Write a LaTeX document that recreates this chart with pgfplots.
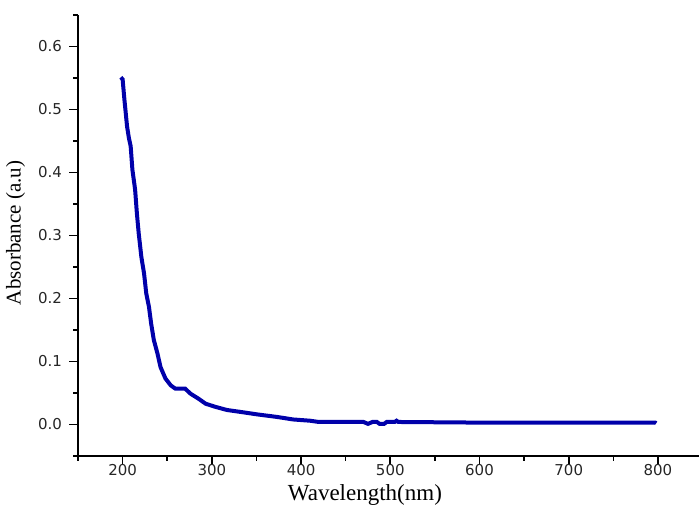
\documentclass[border=0pt]{standalone}
\usepackage{fontspec}
\setmainfont{Liberation Serif}
\newfontfamily\tickfont{DejaVu Sans}
\usepackage{pgfplots}
\pgfplotsset{compat=1.18}
\definecolor{curveblue}{RGB}{0,0,170}

\begin{document}
\begin{tikzpicture}
\begin{axis}[
    scale only axis,
    width=310.5pt, height=220.5pt,
    xmin=150, xmax=846,
    ymin=-0.05, ymax=0.65,
    axis x line=bottom, axis y line=left,
    axis line style={-, line width=0.8pt},
    xtick={200,300,...,800},
    minor xtick={150,250,...,850},
    ytick={0,0.1,...,0.6},
    minor ytick={-0.05,0.05,...,0.65},
    yticklabel style={/pgf/number format/.cd, fixed, fixed zerofill, precision=1},
    /pgf/number format/assume math mode=true,
    tick align=outside,
    major tick length=4.5pt, minor tick length=2.5pt,
    tick style={line width=0.8pt, black},
    ticklabel style={font=\tickfont\fontsize{7.5}{9}\selectfont, text=black!85},
    xticklabel style={yshift=4pt},
    xlabel={Wavelength(nm)},
    ylabel={Absorbance (a.u)},
    xlabel style={font=\fontsize{11.5}{13}\selectfont, at={(axis description cs:0.462,0)}, anchor=base, yshift=-22.5pt},
    ylabel style={font=\fontsize{10.5}{12}\selectfont, at={(axis description cs:-0.074,0.506)}, anchor=south},
    clip=false,
]
\addplot[curveblue, line width=2pt] coordinates {
    (198,0.551) (200,0.548) (202,0.516) (205,0.473) (207,0.455) (209,0.442)
    (211,0.404) (214,0.373) (216,0.335) (218,0.304) (221,0.266) (224,0.240)
    (226.5,0.208) (229.5,0.187) (232,0.160) (235,0.134) (239,0.113)
    (242.5,0.091) (248,0.073) (254,0.062) (259,0.057) (270,0.057) (276,0.049)
    (285,0.041) (293,0.033) (304,0.028) (317,0.023) (332,0.020) (351,0.016)
    (373,0.012) (391,0.008) (410,0.006) (420,0.004) (470,0.004) (475,0.001)
    (480,0.004) (485,0.004) (488,0.001) (493,0.001) (496,0.004) (505,0.004)
    (507,0.006) (509,0.004) (600,0.003) (700,0.003) (797,0.003) (798,0.002)
};
\end{axis}
\pgfresetboundingbox
\path (-39pt,-25pt) rectangle (310.5pt,228pt);
\end{tikzpicture}
\end{document}
